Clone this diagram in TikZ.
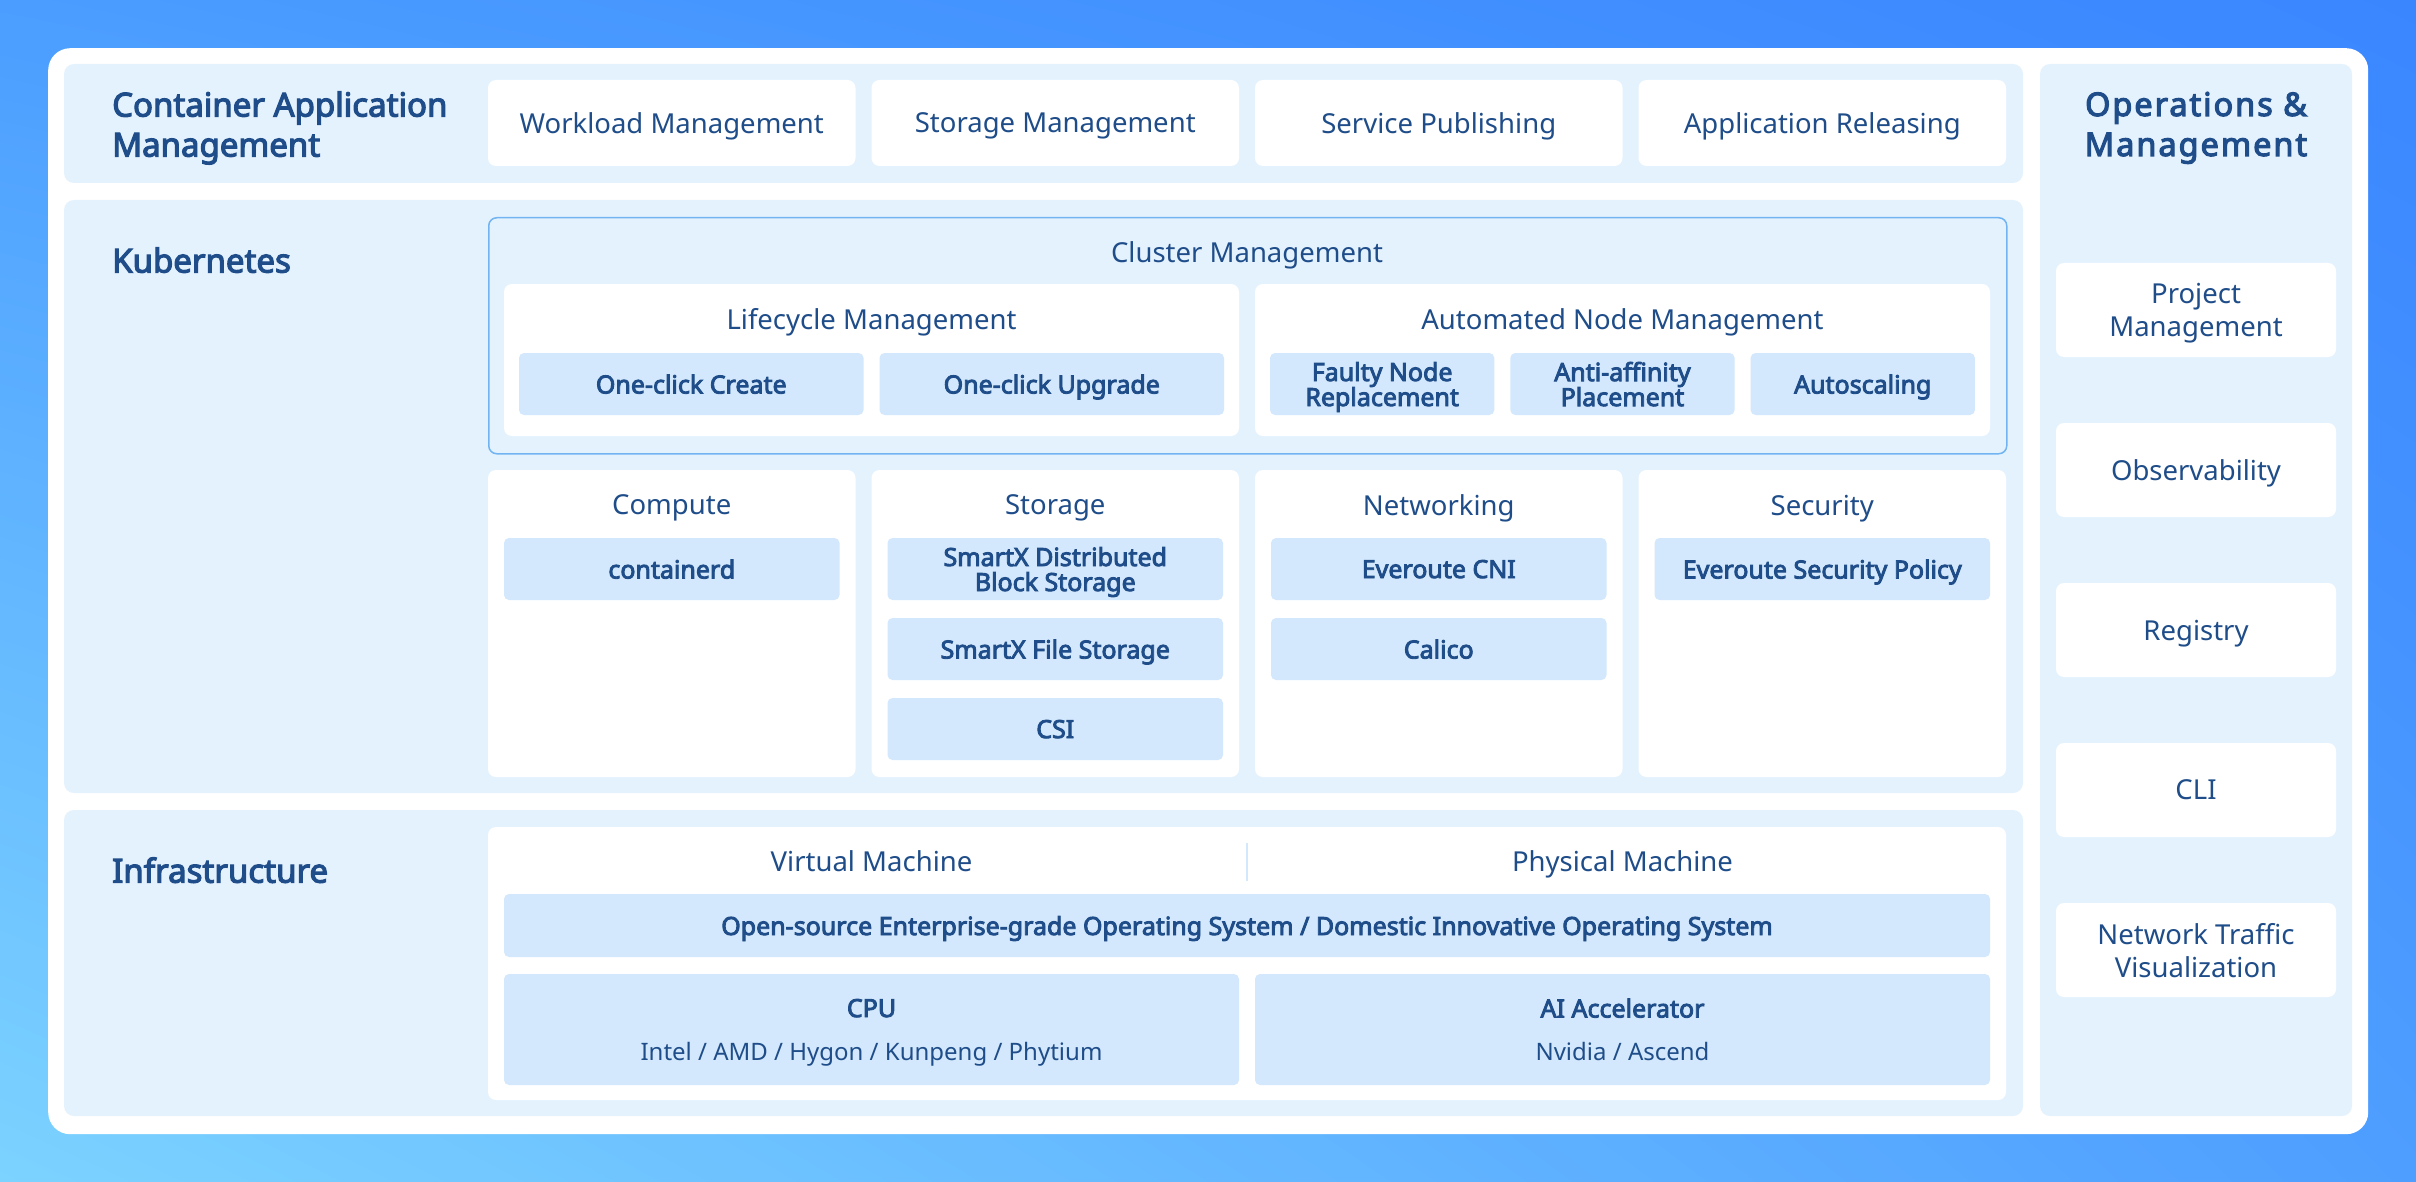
\documentclass[tikz,border=0pt]{standalone}
\usepackage{fontspec}
\usetikzlibrary{shadings}
\setmainfont{Noto Sans}[BoldFont={Noto Sans}, BoldFeatures={FakeBold=3.5}]
\newfontfamily\opsfont{Noto Sans}[LetterSpace=6, BoldFont={Noto Sans}, BoldFeatures={FakeBold=3.5}]
\definecolor{txt}{HTML}{1F4D89}
\definecolor{secbg}{HTML}{E4F2FE}
\definecolor{btn}{HTML}{D3E8FC}
\definecolor{clb}{HTML}{72B4F2}
\definecolor{bgUL}{HTML}{4B9DFF}
\definecolor{bgUR}{HTML}{3A86FF}
\definecolor{bgLL}{HTML}{7CD3FF}
\definecolor{bgLR}{HTML}{4E9EFF}
\newcommand\fReg{\fontsize{27.5}{33}\selectfont}
\newcommand\fBtn{\fontsize{25}{25}\selectfont\bfseries}
\newcommand\fHead{\fontsize{33}{40}\selectfont\bfseries}
\newcommand\fSub{\fontsize{24}{29}\selectfont}
\tikzset{
  sz/.style 2 args={minimum width=#1pt, minimum height=#2pt},
  panel/.style={fill=secbg, rounded corners=10pt, anchor=north west, inner sep=0pt, outer sep=0pt},
  wbox/.style={fill=white, rounded corners=8pt, anchor=north west, inner sep=0pt, outer sep=0pt, align=center, text=txt, font=\fReg, text depth=0pt},
  bbtn/.style={fill=btn, rounded corners=5pt, anchor=north west, inner sep=0pt, outer sep=0pt, align=center, text=txt, font=\fBtn, text depth=0pt},
  lbl/.style={text=txt, font=\fReg, inner sep=0pt, align=center, text depth=0pt},
  tx/.style={text=txt, inner sep=0pt, text depth=0pt},
  head/.style={text=txt, font=\fHead, inner sep=0pt, align=left, anchor=west, text depth=0pt},
}
\begin{document}
\begin{tikzpicture}[x=1pt, y=-1pt]
\useasboundingbox (0,0) rectangle (2416,1182);
\shade[upper left=bgUL, upper right=bgUR, lower left=bgLL, lower right=bgLR] (0,0) rectangle (2416,1182);
\node[fill=white, rounded corners=22pt, anchor=north west, inner sep=0pt, sz={2320}{1086}] (card) at (48,48) {};

% section panels
\node[panel, sz={1959}{119}] (sec1) at (64,64) {};
\node[panel, sz={1959}{593}] (sec2) at (64,200) {};
\node[panel, sz={1959}{306}] (sec3) at (64,810) {};
\node[panel, sz={312}{1052}] (ops) at (2040,64) {};

% section headings
\node[head] (h1) at (112,124) {Container Application\\Management};
\node[head] (h2) at (112,260) {Kubernetes};
\node[head] (h3) at (112,870) {Infrastructure};
\node[tx, align=center, font={\fontsize{32.5}{40}\opsfont\bfseries}] (h4) at (2196,124) {Operations \&\\Management};

% container application management
\node[wbox, sz={367.5}{86}] (wl) at (488,80) {Workload Management};
\node[wbox, sz={367.5}{86}] (sm) at (871.5,80) {Storage Management};
\node[wbox, sz={367.5}{86}] (sp) at (1255,80) {Service Publishing};
\node[wbox, sz={367.5}{86}] (ar) at (1638.5,80) {Application Releasing};

% cluster management
\node[fill=secbg, draw=clb, line width=1.5pt, rounded corners=8pt, anchor=north west, inner sep=0pt, sz={1518}{236}] (cm) at (488,217) {};
\node[lbl] (cmt) at (1247,252) {Cluster Management};
\node[wbox, sz={735}{152}] (lc) at (504,284) {};
\node[lbl] (lct) at (871.5,319) {Lifecycle Management};
\node[bbtn, sz={344.5}{62}] (occ) at (519,353) {One-click Create};
\node[bbtn, sz={344.5}{62}] (ocu) at (879.5,353) {One-click Upgrade};
\node[wbox, sz={735}{152}] (an) at (1255,284) {};
\node[lbl] (ant) at (1622.5,319) {Automated Node Management};
\node[bbtn, sz={224.3}{62}] (fnr) at (1270,353) {Faulty Node\\Replacement};
\node[bbtn, sz={224.3}{62}] (aap) at (1510.3,353) {Anti-affinity\\Placement};
\node[bbtn, sz={224.3}{62}] (asc) at (1750.6,353) {Autoscaling};

% compute / storage / networking / security
\node[wbox, sz={367.5}{307}] (cp) at (488,470) {};
\node[lbl] (cpt) at (671.75,505) {Compute};
\node[bbtn, sz={335.5}{62}] (ctd) at (504,538) {containerd};
\node[wbox, sz={367.5}{307}] (st) at (871.5,470) {};
\node[lbl] (stt) at (1055.25,505) {Storage};
\node[bbtn, sz={335.5}{62}] (sdb) at (887.5,538) {SmartX Distributed\\Block Storage};
\node[bbtn, sz={335.5}{62}] (sfs) at (887.5,618) {SmartX File Storage};
\node[bbtn, sz={335.5}{62}] (csi) at (887.5,698) {CSI};
\node[wbox, sz={367.5}{307}] (nw) at (1255,470) {};
\node[lbl] (nwt) at (1438.75,505) {Networking};
\node[bbtn, sz={335.5}{62}] (ecni) at (1271,538) {Everoute CNI};
\node[bbtn, sz={335.5}{62}] (cal) at (1271,618) {Calico};
\node[wbox, sz={367.5}{307}] (sc) at (1638.5,470) {};
\node[lbl] (sct) at (1822.25,505) {Security};
\node[bbtn, sz={335.5}{62}] (esp) at (1654.5,538) {Everoute Security Policy};

% infrastructure
\node[wbox, sz={1518}{273}] (inf) at (488,827) {};
\node[lbl] (vm) at (871.5,861) {Virtual Machine};
\node[lbl] (pm) at (1622.5,861) {Physical Machine};
\coordinate (dv1) at (1247,843);
\coordinate (dv2) at (1247,881);
\draw[btn, line width=2pt] (dv1) -- (dv2);
\node[bbtn, sz={1486}{63}] (os) at (504,894) {Open-source Enterprise-grade Operating System / Domestic Innovative Operating System};
\node[bbtn, sz={735}{111}] (cpu) at (504,974) {};
\node[tx, font=\fBtn] (cput) at (871.5,1008) {CPU};
\node[tx, font=\fSub] (cpus) at (871.5,1051) {Intel / AMD / Hygon / Kunpeng / Phytium};
\node[bbtn, sz={735}{111}] (ai) at (1255,974) {};
\node[tx, font=\fBtn] (ait) at (1622.5,1008) {AI Accelerator};
\node[tx, font=\fSub] (ais) at (1622.5,1051) {Nvidia / Ascend};

% operations & management
\node[wbox, sz={280}{94}] (pjm) at (2056,263) {Project\\Management};
\node[wbox, sz={280}{94}] (obs) at (2056,423) {Observability};
\node[wbox, sz={280}{94}] (reg) at (2056,583) {Registry};
\node[wbox, sz={280}{94}] (cli) at (2056,743) {CLI};
\node[wbox, sz={280}{94}] (ntv) at (2056,903) {Network Traffic\\Visualization};
\end{tikzpicture}
\end{document}
